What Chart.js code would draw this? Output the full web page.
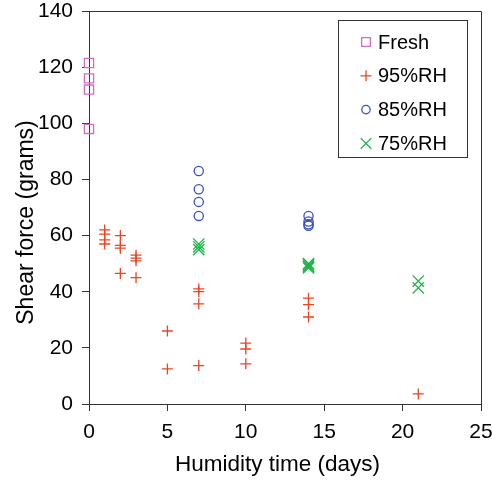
<!DOCTYPE html>
<html>
<head>
<meta charset="utf-8">
<script src="https://cdn.jsdelivr.net/npm/chart.js@4/dist/chart.umd.min.js"></script>
<style>
  html, body { margin: 0; padding: 0; background: #fff; }
  #wrap { width: 492px; height: 480px; }
</style>
</head>
<body>
<div id="wrap"><canvas id="myChart" width="492" height="480"></canvas></div>
<script>
// values
const seriesNames = ['Fresh', '95%RH', '85%RH', '75%RH'];

const freshDays = [0, 0, 0, 0];
const freshForce = [121.5, 116, 112, 98];

const rh95Days = [1, 1, 1, 1, 2, 2, 2, 2, 3, 3, 3, 3, 5, 5, 7, 7, 7, 7, 10, 10, 10, 14, 14, 14, 21];
const rh95Force = [62, 60.5, 58.5, 57, 60, 56.5, 55.5, 46.5, 53, 52, 51, 45, 26, 12.5, 41, 40, 35.7, 13.7, 21.7, 19.6, 14.3, 37.7, 35.4, 31, 3.6];

const rh85Days = [7, 7, 7, 7, 14, 14, 14, 14];
const rh85Force = [83, 76.5, 72, 67, 67, 65, 64, 63.5];

const rh75Days = [7, 7, 7, 14, 14, 14, 14, 21, 21];
const rh75Force = [57, 56, 55, 50, 49.5, 49, 48.5, 43.8, 41.4];

const xTicks = [0, 5, 10, 15, 20, 25];
const yTicks = [0, 20, 40, 60, 80, 100, 120, 140];

const xTitle = 'Humidity time (days)';
const yTitle = 'Shear force (grams)';

const FONT = "'Liberation Sans', Arial, sans-serif";

function toPoints(xs, ys) {
    return xs.map((x, i) => ({ x: x, y: ys[i] }));
}

const legendStyles = [
    { pointStyle: 'rect', radius: 6.2 },
    { pointStyle: 'cross', radius: 5.5 },
    { pointStyle: 'circle', radius: 4.2 },
    { pointStyle: 'crossRot', radius: 7.5 }
];

// legend box inside the plot, top right
const boxLegend = {
    id: 'boxLegend',
    afterDatasetsDraw(chart) {
        const ctx = chart.ctx;
        const area = chart.chartArea;
        const left = area.right - 143;
        const top = area.top + 9;
        ctx.save();
        ctx.fillStyle = '#fff';
        ctx.fillRect(left, top, 130, 138);
        ctx.strokeStyle = '#333';
        ctx.lineWidth = 1;
        ctx.strokeRect(left + 0.5, top + 0.5, 129, 137);
        chart.data.datasets.forEach((ds, i) => {
            const cy = top + 22 + i * 33.8;
            ctx.strokeStyle = ds.borderColor;
            ctx.fillStyle = 'rgba(0,0,0,0)';
            ctx.lineWidth = 1.3;
            Chart.helpers.drawPoint(ctx, {
                pointStyle: legendStyles[i].pointStyle,
                radius: legendStyles[i].radius,
                rotation: 0,
                borderWidth: 1.3
            }, left + 28, cy);
            ctx.fillStyle = '#000';
            ctx.font = '20px ' + FONT;
            ctx.textBaseline = 'middle';
            ctx.textAlign = 'left';
            ctx.fillText(ds.label, left + 40, cy + 1);
        });
        ctx.restore();
    }
};

// top and right edges of the plot frame, plus the axis titles
const frame = {
    id: 'frame',
    beforeDatasetsDraw(chart) {
        const ctx = chart.ctx;
        const a = chart.chartArea;
        ctx.save();
        ctx.strokeStyle = '#333';
        ctx.lineWidth = 1;
        ctx.beginPath();
        ctx.moveTo(a.left, a.top + 0.5);
        ctx.lineTo(a.right + 0.5, a.top + 0.5);
        ctx.lineTo(a.right + 0.5, a.bottom);
        ctx.stroke();

        ctx.fillStyle = '#000';
        ctx.textBaseline = 'alphabetic';
        ctx.textAlign = 'center';
        ctx.font = '22.5px ' + FONT;
        ctx.fillText(xTitle, a.left + 188.5, a.bottom + 67);

        ctx.translate(a.left - 56, a.top + 211.5);
        ctx.rotate(-Math.PI / 2);
        ctx.font = '23px ' + FONT;
        ctx.fillText(yTitle, 0, 0);
        ctx.restore();
    }
};

const ctx = document.getElementById('myChart').getContext('2d');
const myChart = new Chart(ctx, {
    type: 'scatter',
    data: {
        datasets: [{
            label: seriesNames[0],
            data: toPoints(freshDays, freshForce),
            pointStyle: 'rect',
            pointRadius: 6.5,
            borderColor: '#d46cc4',
            backgroundColor: 'rgba(0,0,0,0)',
            borderWidth: 1.3,
            clip: false
        }, {
            label: seriesNames[1],
            data: toPoints(rh95Days, rh95Force),
            pointStyle: 'cross',
            pointRadius: 5.5,
            borderColor: '#ee4422',
            backgroundColor: 'rgba(0,0,0,0)',
            borderWidth: 1.3,
            clip: false
        }, {
            label: seriesNames[2],
            data: toPoints(rh85Days, rh85Force),
            pointStyle: 'circle',
            pointRadius: 4.6,
            borderColor: '#3a4fc0',
            backgroundColor: 'rgba(0,0,0,0)',
            borderWidth: 1.3,
            clip: false
        }, {
            label: seriesNames[3],
            data: toPoints(rh75Days, rh75Force),
            pointStyle: 'crossRot',
            pointRadius: 8,
            borderColor: '#22b24c',
            backgroundColor: 'rgba(0,0,0,0)',
            borderWidth: 1.3,
            clip: false
        }]
    },
    options: {
        responsive: false,
        animation: false,
        layout: {
            padding: { top: 11, right: 11, left: 0, bottom: 0 }
        },
        plugins: {
            legend: { display: false },
            tooltip: { enabled: false }
        },
        scales: {
            x: {
                type: 'linear',
                min: 0,
                max: 25,
                afterBuildTicks: (axis) => { axis.ticks = xTicks.map(v => ({ value: v })); },
                afterFit: (axis) => {
                    axis.height = 76;
                    axis.paddingLeft = 0;
                    axis.paddingRight = 0;
                },
                ticks: {
                    color: '#000',
                    font: { family: FONT, size: 21 },
                    padding: 9
                },
                grid: {
                    drawOnChartArea: false,
                    drawTicks: true,
                    tickLength: 7,
                    color: '#333'
                },
                border: { color: '#333', width: 1 },
                title: { display: false, text: xTitle }
            },
            y: {
                type: 'linear',
                min: 0,
                max: 140,
                afterBuildTicks: (axis) => { axis.ticks = yTicks.map(v => ({ value: v })); },
                afterFit: (axis) => {
                    axis.width = 89;
                    axis.paddingTop = 0;
                    axis.paddingBottom = 0;
                },
                ticks: {
                    color: '#000',
                    font: { family: FONT, size: 21 },
                    padding: 9
                },
                grid: {
                    drawOnChartArea: false,
                    drawTicks: true,
                    tickLength: 7,
                    color: '#333'
                },
                border: { color: '#333', width: 1 },
                title: { display: false, text: yTitle }
            }
        }
    },
    plugins: [frame, boxLegend]
});
</script>
</body>
</html>
